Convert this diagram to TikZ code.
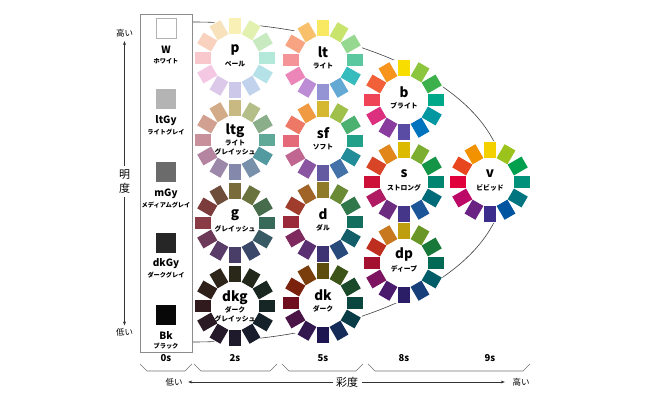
\documentclass[tikz,border=0pt]{standalone}
\usepackage{fontspec}
\setmainfont{Noto Sans CJK JP}
\usetikzlibrary{arrows.meta}
\newcommand\drawwheel[3]{%
  \fill[white] (#1,#2) circle[radius=41];
  \foreach \c [count=\i from 0] in {#3} {
    \definecolor{wc}{HTML}{\c}
    \fill[wc, shift={(#1,#2)}, rotate=-30*\i] (-6.25,-40) rectangle (6.25,-24);
  }%
}
\begin{document}
\begin{tikzpicture}[x=1pt,y=-1pt,
  mainlbl/.style={font=\bfseries\fontsize{13.5}{14}\selectfont, inner sep=0pt},
  sublbl/.style={font=\bfseries\fontsize{6.8}{7}\selectfont, inner sep=0pt},
  graylbl/.style={font=\bfseries\fontsize{10}{11}\selectfont, inner sep=0pt},
  graysub/.style={font=\bfseries\fontsize{6.2}{7}\selectfont, inner sep=0pt},
  graysq/.style={minimum width=20pt, minimum height=20pt, inner sep=0pt},
  satlbl/.style={font=\bfseries\fontsize{9.5}{10}\selectfont, inner sep=0pt},
  axislbl/.style={font=\fontsize{8.5}{9}\selectfont, inner sep=0pt},
  axisname/.style={font=\fontsize{11}{12}\selectfont, inner sep=0pt},
  axisline/.style={draw=black!80, line width=0.5pt},
  arrowtip/.style={-{Stealth[length=4pt,width=3pt]}},
  bracket/.style={draw=black!55, line width=0.6pt},
  ]
\useasboundingbox (0,0) rectangle (648,398);
\fill[white] (0,0) rectangle (648,398);

% tone region outline
\coordinate (ellTop) at (192,22);
\draw[black!75, line width=0.6pt] (ellTop) arc[start angle=-90, end angle=90, x radius=312, y radius=160];

% achromatic column
\draw[draw=black!45, line width=0.6pt] (140,14) rectangle (192,352);
\node[graysq, draw=black!30, fill=white] (wSq) at (166,28) {};
\node[graylbl] (wLbl) at (166,50) {W};
\node[graysub] (wSub) at (166,61) {ホワイト};
\node[graysq, fill={rgb,255:red,180;green,180;blue,180}] (ltGySq) at (166,99) {};
\node[graylbl] (ltGyLbl) at (166,121) {ltGy};
\node[graysub] (ltGySub) at (166,132) {ライトグレイ};
\node[graysq, fill={rgb,255:red,107;green,107;blue,107}] (mGySq) at (166,172) {};
\node[graylbl] (mGyLbl) at (166,194) {mGy};
\node[graysub] (mGySub) at (166,205) {メディアムグレイ};
\node[graysq, fill={rgb,255:red,38;green,38;blue,38}] (dkGySq) at (166,243) {};
\node[graylbl] (dkGyLbl) at (166,264) {dkGy};
\node[graysub] (dkGySub) at (166,275) {ダークグレイ};
\node[graysq, fill={rgb,255:red,8;green,8;blue,8}] (BkSq) at (166,315) {};
\node[graylbl] (BkLbl) at (166,336) {Bk};
\node[graysub] (BkSub) at (166,346) {ブラック};

% colour wheels (Y, YG, G, BG, gB, B, V, P, RP, R, rO, yO clockwise from top)
\drawwheel{235}{58}{F8F0B4,E2F0B0,C8EAC0,B4E8D8,B4E2E8,C0D2EC,CCC8EA,DCC8E8,F4C8E2,F8C8CC,F8D2BE,F8E2BC}
\drawwheel{323}{60}{F8E862,C8E46C,96D890,5CC8A0,36BCBC,64A8D4,9494D4,BC8CD4,EC86B8,F49498,F8A482,F8C06A}
\drawwheel{404}{100}{F7DE00,8CC63E,3CB04A,00A88A,0097A0,0073BE,5A4BA5,8A3C9E,DC2F7D,EE4455,F2603A,F7941E}
\drawwheel{490}{182}{F3D100,9CC31C,00A04E,00917B,00747F,0054A0,3A2D8C,6B2383,BC0867,E0003C,E8461E,F39200}
\drawwheel{235}{140}{C8B882,B4BE88,8AAE8A,60A898,529AA0,7890AA,8488AA,9C88A8,B484A0,C8909A,D2A090,D2AC88}
\drawwheel{323}{141}{D6B830,A0C04C,4CB070,22A088,228C98,4472A8,645AA2,8A56A2,C06690,E46A7A,EE7866,F09A44}
\drawwheel{404}{182}{DCBA00,7CAE32,149447,008670,006B78,1C5598,463689,6C2C80,B01A62,CC1038,D84526,E0861A}
\drawwheel{235}{223}{7A6C3A,6A723E,466C4C,386A5A,385A64,3C486A,483E68,5A3C68,6C3A58,8A3C46,7C3C3C,6E4E3A}
\drawwheel{323}{222}{8E7A28,6A8A36,30784A,146E5E,145E6A,284A7A,3E3474,5A3072,7E2A5E,9A2A3A,A03C2C,A06428}
\drawwheel{404}{263}{BE9E0E,6A9628,18783A,006A54,005C66,173F7A,2B1E66,4A1A6C,7C1460,A41030,BE2E1E,C8781E}
\drawwheel{235}{306}{2A2818,22281A,1A2620,162624,16222A,1A1E2C,1E1A2C,241A2A,2A1A24,301A1E,30201A,2E261A}
\drawwheel{323}{303}{5E4C0E,3C5418,1A4A2A,0A4640,0A3C48,152C58,1E1650,32184E,4A1446,6E0E1E,7A220E,7A3E0C}

% wheel labels
\node[mainlbl] (pLbl) at (235,50) {p};
\node[sublbl] (pSub) at (235,64) {ペール};
\node[mainlbl] (ltLbl) at (323,52) {lt};
\node[sublbl] (ltSub) at (323,66) {ライト};
\node[mainlbl] (bLbl) at (404,92) {b};
\node[sublbl] (bSub) at (404,106) {ブライト};
\node[mainlbl] (vLbl) at (490,174) {v};
\node[sublbl] (vSub) at (490,188) {ビビッド};
\node[mainlbl] (ltgLbl) at (235,131) {ltg};
\node[sublbl] (ltgSub1) at (235,143) {ライト};
\node[sublbl] (ltgSub2) at (235,152) {グレイッシュ};
\node[mainlbl] (sfLbl) at (323,133) {sf};
\node[sublbl] (sfSub) at (323,147) {ソフト};
\node[mainlbl] (sLbl) at (404,174) {s};
\node[sublbl] (sSub) at (404,188) {ストロング};
\node[mainlbl] (gLbl) at (235,215) {g};
\node[sublbl] (gSub) at (235,229) {グレイッシュ};
\node[mainlbl] (dLbl) at (323,214) {d};
\node[sublbl] (dSub) at (323,228) {ダル};
\node[mainlbl] (dpLbl) at (404,255) {dp};
\node[sublbl] (dpSub) at (404,269) {ディープ};
\node[mainlbl] (dkgLbl) at (235,298) {dkg};
\node[sublbl] (dkgSub1) at (235,310) {ダーク};
\node[sublbl] (dkgSub2) at (235,319) {グレイッシュ};
\node[mainlbl] (dkLbl) at (323,295) {dk};
\node[sublbl] (dkSub) at (323,309) {ダーク};

% left axis (lightness)
\node[axislbl] (lHigh) at (124.5,33) {高い};
\node[axisname] (lName1) at (124.5,175) {明};
\node[axisname] (lName2) at (124.5,188) {度};
\node[axislbl] (lLow) at (124.5,332) {低い};
\draw[axisline, arrowtip, shorten <=4pt, shorten >=4pt] (lName1) -- (lHigh);
\draw[axisline, arrowtip, shorten <=3.5pt, shorten >=2.5pt] (lName2) -- (lLow);

% saturation labels and brackets
\node[satlbl] (s0) at (166,358) {0s};
\node[satlbl] (s2) at (235,358) {2s};
\node[satlbl] (s5) at (323,358) {5s};
\node[satlbl] (s8) at (404,358) {8s};
\node[satlbl] (s9) at (490,358) {9s};
\draw[bracket] (140,364) -- (147,371) -- (185,371) -- (192,364);
\draw[bracket] (194,364) -- (201,371) -- (270,371) -- (277,364);
\draw[bracket] (282,364) -- (289,371) -- (356,371) -- (363,364);
\draw[bracket] (368,364) -- (375,371) -- (523,371) -- (530,364);

% bottom axis (chroma)
\node[axislbl] (bLow) at (174,382) {低い};
\node[axisname] (bName) at (347,382) {彩度};
\node[axislbl] (bHigh) at (521,382) {高い};
\draw[axisline, arrowtip, shorten <=2.5pt, shorten >=5.5pt] (bName) -- (bLow);
\draw[axisline, arrowtip, shorten <=3.5pt, shorten >=7.5pt] (bName) -- (bHigh);
\end{tikzpicture}
\end{document}
